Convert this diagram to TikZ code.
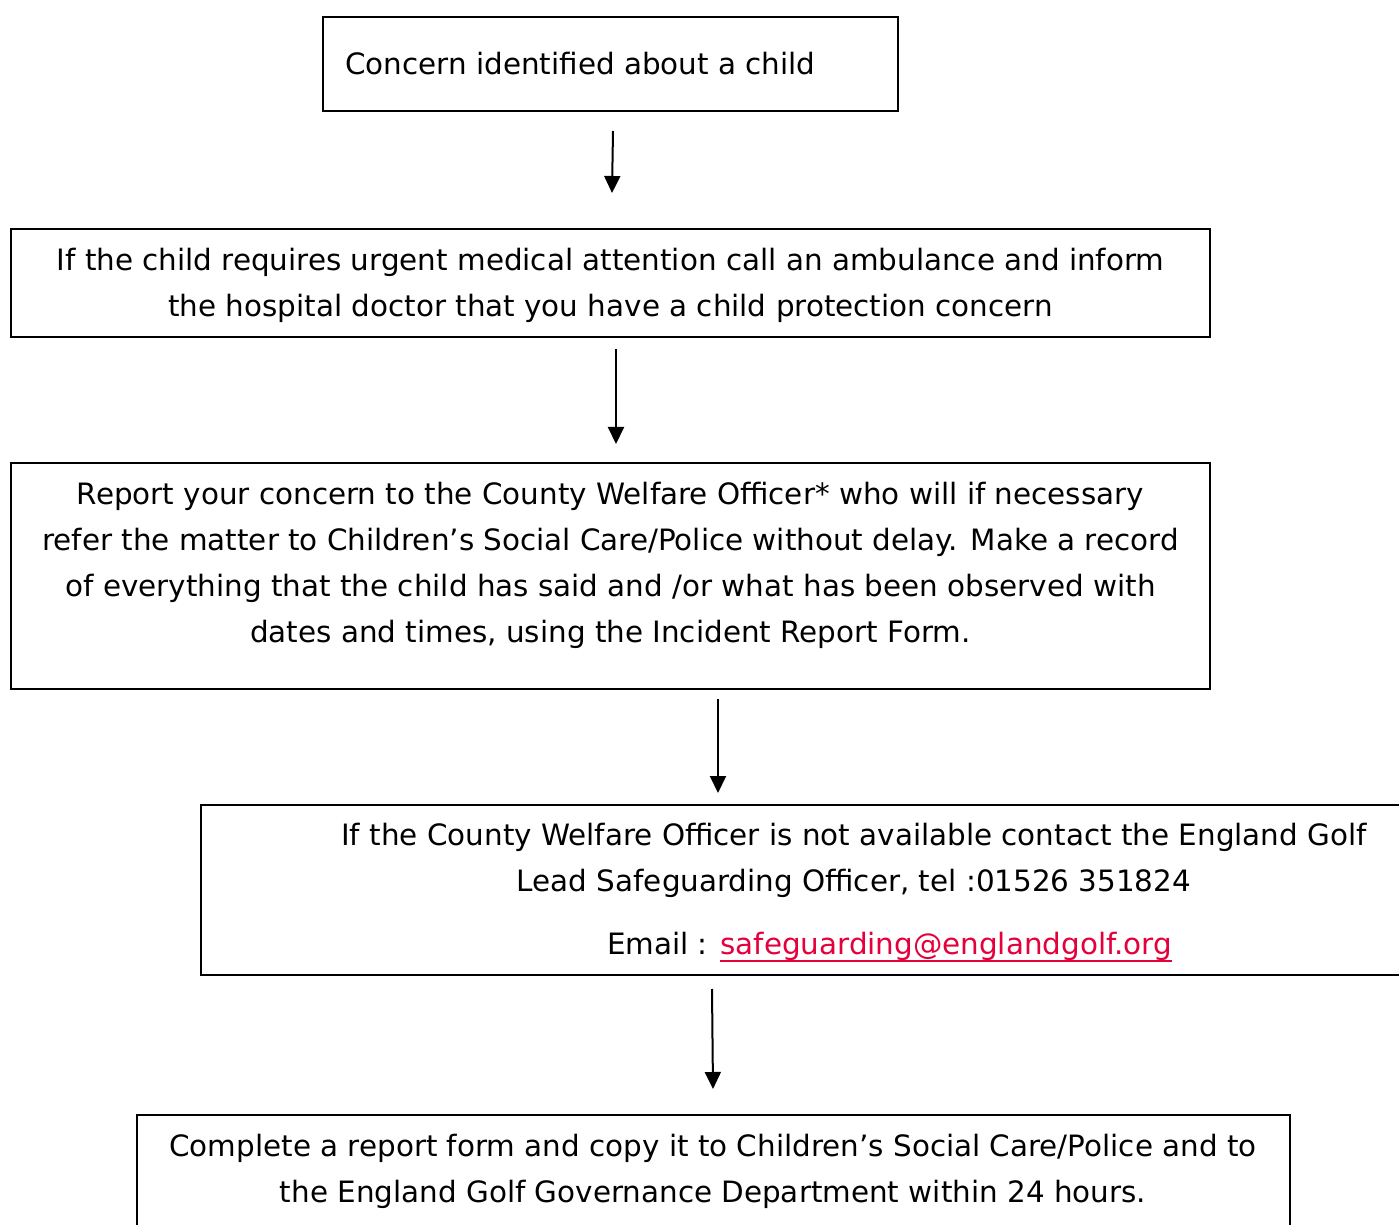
\documentclass[tikz,border=0pt]{standalone}
\usepackage{fontspec}
\setmainfont{DejaVu Sans}
\usepackage{xcolor}
\usetikzlibrary{arrows.meta, positioning}
\definecolor{linkred}{HTML}{E4003B}
\def\px{0.5pt}
\newcommand{\linkline}[1]{\setbox0\hbox{#1}\rlap{\rule[-3.6pt]{\wd0}{0.9pt}}\box0}

\begin{document}
\begin{tikzpicture}[
			x=0.5pt, y=-0.5pt,
			font=\fontsize{14.7}{23}\selectfont,
			box_node/.style={
				rectangle,
				draw=black,
				line width=1pt,
				inner sep=0pt
			},
			text_node/.style={
				inner sep=0pt,
				align=center
			},
			line/.style={
				-{Triangle[width=8pt,length=8.5pt]},
				line width=1pt
			}
			]
			
			\useasboundingbox (0,0) rectangle (1399,1225);
			
			% Boxes
			
			\node [box_node, minimum width=575*\px, minimum height=94*\px] (concern) at (610.5,64) {};
			\node [box_node, minimum width=1199*\px, minimum height=108*\px] (medical) at (610.5,283) {};
			\node [box_node, minimum width=1199*\px, minimum height=226*\px] (report) at (610.5,576) {};
			\node [box_node, minimum width=1215*\px, minimum height=170*\px] (contact) at (808.5,890) {};
			\node [box_node, minimum width=1153*\px, minimum height=250*\px] (complete) at (713.5,1240) {};
			
			% Texts
			
			\node [text_node, anchor=west] (concern_t) at (345,64) {Concern identified about a child};
			\node [text_node] (medical_t) at (610.5,285) {If the child requires urgent medical attention call an ambulance and inform\\the hospital doctor that you have a child protection concern};
			\node [text_node] (report_t) at (610.5,565) {Report your concern to the County Welfare Officer* who will if necessary\\refer the matter to Children’s Social Care/Police without delay. Make a record\\of everything that the child has said and /or what has been observed with\\dates and times, using the Incident Report Form.};
			\node [text_node] (contact_t) at (854,860) {If the County Welfare Officer is not available contact the England Golf\\Lead Safeguarding Officer, tel :01526 351824};
			\node [text_node] (email_t) at (889.5,947) {Email : \textcolor{linkred}{\linkline{safeguarding@englandgolf.org}}};
			\node [text_node] (complete_t) at (713,1171) {Complete a report form and copy it to Children’s Social Care/Police and to\\the England Golf Governance Department within 24 hours.};
			
			% Connections
			
			\coordinate (a1) at (613,131);
			\coordinate (b1) at (612,193);
			\coordinate (a2) at (616,349);
			\coordinate (b2) at (616,444);
			\coordinate (a3) at (718,699);
			\coordinate (b3) at (718,793);
			\coordinate (a4) at (712,989);
			\coordinate (b4) at (713,1089);
			
			\draw [line] (a1) -- (b1);
			\draw [line] (a2) -- (b2);
			\draw [line] (a3) -- (b3);
			\draw [line] (a4) -- (b4);
			
		\end{tikzpicture}
\end{document}
